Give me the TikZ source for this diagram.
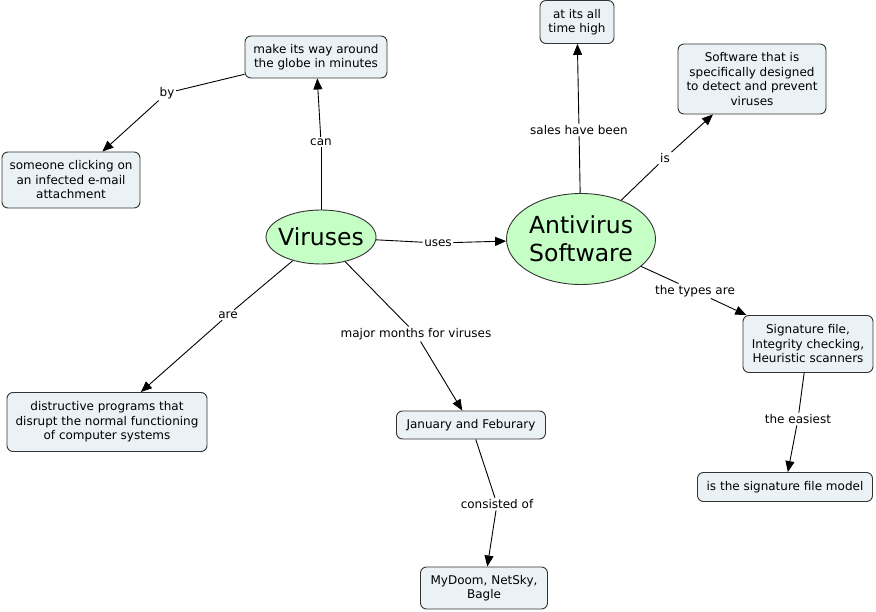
\documentclass[tikz,border=0pt]{standalone}
\usepackage{fontspec}
\setmainfont{DejaVu Sans}
\usetikzlibrary{shapes.geometric,arrows.meta}
\definecolor{boxfill}{HTML}{EBF2F5}
\definecolor{ellfill}{HTML}{C6FFC6}
\definecolor{edgec}{HTML}{333333}
\begin{document}
\begin{tikzpicture}[x=1pt,y=-1pt,
  concept/.style={draw=edgec,fill=boxfill,rounded corners=6pt,line width=0.9pt,align=center,inner sep=0pt,
    font=\fontsize{12}{14.5}\selectfont},
  bigc/.style={ellipse,draw=edgec,fill=ellfill,line width=0.9pt,align=center,inner sep=0pt,
    font=\fontsize{23.5}{28}\selectfont},
  lab/.style={fill=white,inner sep=1.5pt,font=\fontsize{12}{14.5}\selectfont},
  link/.style={draw=black,line width=0.9pt},
  arr/.style={link,-{Triangle[length=11pt,width=9pt]}}
]
\useasboundingbox (0,0) rectangle (876,612);
% main concepts
\node[bigc,inner xsep=-4.2pt,minimum width=110pt,minimum height=54pt] (vir) at (321,237) {Viruses};
\node[bigc,minimum width=149pt,minimum height=91pt] (anti) at (581,239) {Antivirus\\Software};
% boxes
\node[concept,minimum width=142pt,minimum height=42pt] (make) at (316,57) {make its way around\\the globe in minutes};
\node[concept,minimum width=138pt,minimum height=56pt] (some) at (71,180) {someone clicking on\\an infected e-mail\\attachment};
\node[concept,minimum width=74pt,minimum height=43pt] (high) at (577,22) {at its all\\time high};
\node[concept,minimum width=148pt,minimum height=70pt] (soft) at (752,79) {Software that is\\specifically designed\\to detect and prevent\\viruses};
\node[concept,minimum width=130pt,minimum height=57pt] (sig) at (808,344) {Signature file,\\Integrity checking,\\Heuristic scanners};
\node[concept,minimum width=175pt,minimum height=29pt] (model) at (785,487) {is the signature file model};
\node[concept,minimum width=200pt,minimum height=59pt] (dist) at (107,422) {distructive programs that\\disrupt the normal functioning\\of computer systems};
\node[concept,minimum width=149pt,minimum height=28pt] (jan) at (471,425) {January and Feburary};
\node[concept,minimum width=127pt,minimum height=42pt] (myd) at (484,588) {MyDoom, NetSky,\\Bagle};
% link labels
\node[lab] (lcan) at (321,142) {can};
\node[lab] (lby) at (167,93) {by};
\node[lab] (luses) at (438,243) {uses};
\node[lab] (lare) at (228,315) {are};
\node[lab] (lmaj) at (416,334) {major months for viruses};
\node[lab] (lcons) at (497,504) {consisted of};
\node[lab] (lsales) at (579,130) {sales have been};
\node[lab] (lis) at (665,158) {is};
\node[lab] (ltypes) at (695,291) {the types are};
\node[lab] (leas) at (798,419) {the easiest};
% links
\draw[link] (vir) -- (lcan); \draw[arr] (lcan) -- (make);
\draw[link] (make) -- (lby); \draw[arr] (lby) -- (some);
\draw[link] (vir) -- (luses); \draw[arr] (luses) -- (anti);
\draw[link] (vir) -- (lare); \draw[arr] (lare) -- (dist);
\draw[link] (vir) -- (lmaj); \draw[arr] (lmaj) -- (jan);
\draw[link] (jan) -- (lcons); \draw[arr] (lcons) -- (myd);
\draw[link] (anti) -- (lsales); \draw[arr] (lsales) -- (high);
\draw[link] (anti) -- (lis); \draw[arr] (lis) -- (soft);
\draw[link] (anti) -- (ltypes); \draw[arr] (ltypes) -- (sig);
\draw[link] (sig) -- (leas); \draw[arr] (leas) -- (model);
\end{tikzpicture}
\end{document}
